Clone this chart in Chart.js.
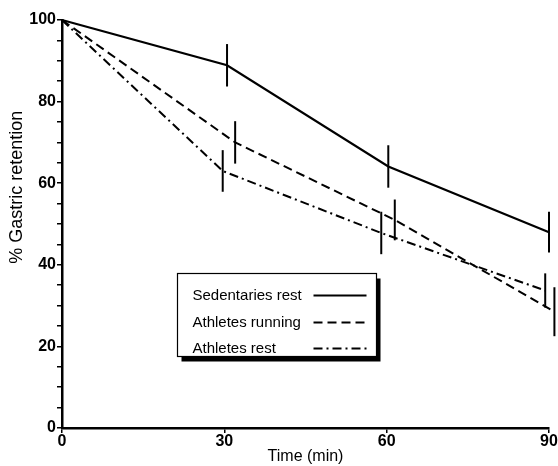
<!DOCTYPE html>
<html>
<head>
<meta charset="utf-8">
<script src="https://cdn.jsdelivr.net/npm/chart.js@4.4.0/dist/chart.umd.min.js"></script>
<style>
  html, body { margin: 0; padding: 0; background: #fff; }
  #wrap { width: 558px; height: 466px; }
</style>
</head>
<body>
<div id="wrap"><canvas id="chart" width="558" height="466"></canvas></div>
<script>
// x positions are slightly staggered in the original so the error bars don't overlap
const timeTicks = [0, 30, 60, 90];
const yTickLabels = [0, 20, 40, 60, 80, 100];

const sedentaryX = [0, 30.5, 60.3, 90];
const sedentaryY = [100, 88.9, 64.1, 48];
const sedentaryErr = [0, 5.2, 5.2, 5];

const runningX = [0, 32, 61.5, 91];
const runningY = [100, 70, 51, 28.5];
const runningErr = [0, 5.2, 5, 6];

const restX = [0, 29.7, 59, 89.3];
const restY = [100, 63, 47.8, 33.7];
const restErr = [0, 5.1, 5.2, 4.2];

const seriesLabels = ['Sedentaries rest', 'Athletes running', 'Athletes rest'];

function toPoints(xs, ys) {
    return xs.map((x, i) => ({ x: x, y: ys[i] }));
}

const errorBars = {
    id: 'errorBars',
    afterDatasetsDraw(chart) {
        const ctx = chart.ctx;
        const xs = chart.scales.x, ys = chart.scales.y;
        ctx.save();
        ctx.strokeStyle = '#000';
        ctx.lineWidth = 2;
        chart.data.datasets.forEach(ds => {
            ds.data.forEach((p, i) => {
                const e = ds.errors[i];
                if (!e) return;
                const px = xs.getPixelForValue(p.x);
                ctx.beginPath();
                ctx.moveTo(px, ys.getPixelForValue(p.y + e));
                ctx.lineTo(px, ys.getPixelForValue(p.y - e));
                ctx.stroke();
            });
        });
        ctx.restore();
    }
};

const boxLegend = {
    id: 'boxLegend',
    afterDraw(chart) {
        const ctx = chart.ctx;
        const a = chart.chartArea;
        const w = a.right - a.left, h = a.bottom - a.top;
        const bx = Math.round(a.left + 0.2355 * w) + 0.5;
        const by = Math.round(a.top + 0.621 * h) + 0.5;
        const bw = 199, bh = 83;
        ctx.save();
        ctx.fillStyle = '#000';
        ctx.fillRect(bx + 4, by + 5, bw, bh);
        ctx.fillStyle = '#fff';
        ctx.fillRect(bx, by, bw, bh);
        ctx.strokeStyle = '#000';
        ctx.lineWidth = 1.2;
        ctx.strokeRect(bx, by, bw, bh);
        ctx.font = '15px "Liberation Sans", Arial, sans-serif';
        ctx.textBaseline = 'middle';
        const rows = [22, 49, 75];
        chart.data.datasets.forEach((ds, i) => {
            const ty = by + rows[i];
            ctx.fillStyle = '#000';
            ctx.fillText(ds.label, bx + 15, ty);
            ctx.beginPath();
            ctx.setLineDash(ds.borderDash || []);
            ctx.lineWidth = ds.borderWidth;
            ctx.moveTo(bx + 136, ty);
            ctx.lineTo(bx + 189, ty);
            ctx.stroke();
        });
        ctx.restore();
    }
};

const yTitle = {
    id: 'yTitle',
    afterDraw(chart) {
        const ctx = chart.ctx;
        const a = chart.chartArea;
        ctx.save();
        ctx.translate(17, a.top + 0.41 * (a.bottom - a.top));
        ctx.rotate(-Math.PI / 2);
        ctx.font = '18px "Liberation Sans", Arial, sans-serif';
        ctx.fillStyle = '#000';
        ctx.textAlign = 'center';
        ctx.textBaseline = 'middle';
        ctx.fillText('% Gastric retention', 0, 0);
        ctx.restore();
    }
};

const ctx = document.getElementById('chart').getContext('2d');
new Chart(ctx, {
    type: 'line',
    data: {
        datasets: [
            {
                label: seriesLabels[0],
                data: toPoints(sedentaryX, sedentaryY),
                errors: sedentaryErr,
                borderColor: '#000',
                borderWidth: 2.2,
                borderDash: []
            },
            {
                label: seriesLabels[1],
                data: toPoints(runningX, runningY),
                errors: runningErr,
                borderColor: '#000',
                borderWidth: 2,
                borderDash: [9, 5]
            },
            {
                label: seriesLabels[2],
                data: toPoints(restX, restY),
                errors: restErr,
                borderColor: '#000',
                borderWidth: 2,
                borderDash: [9, 4, 2, 4]
            }
        ]
    },
    options: {
        responsive: false,
        animation: false,
        clip: false,
        elements: {
            point: { radius: 0, hoverRadius: 0 },
            line: { tension: 0, fill: false }
        },
        layout: { padding: { top: 20, right: 9, left: 0, bottom: 0 } },
        plugins: {
            legend: { display: false },
            tooltip: { enabled: false }
        },
        scales: {
            x: {
                type: 'linear',
                min: 0,
                max: 90,
                afterBuildTicks(scale) {
                    scale.ticks = timeTicks.map(v => ({ value: v }));
                },
                afterFit(scale) { scale.height = 38; },
                grid: {
                    drawOnChartArea: false,
                    color: '#000',
                    lineWidth: 1.5,
                    tickLength: 5
                },
                border: { display: true, color: '#000', width: 2.5 },
                ticks: {
                    color: '#000',
                    padding: -1,
                    maxRotation: 0,
                    font: { family: '"Liberation Sans", Arial, sans-serif', size: 16, weight: 'bold' }
                },
                title: {
                    display: true,
                    text: 'Time (min)',
                    color: '#000',
                    padding: { top: -2, bottom: 0 },
                    font: { family: '"Liberation Sans", Arial, sans-serif', size: 16 }
                }
            },
            y: {
                min: 0,
                max: 100,
                ticks: {
                    stepSize: 5,
                    color: '#000',
                    padding: 1,
                    autoSkip: false,
                    font: { family: '"Liberation Sans", Arial, sans-serif', size: 16, weight: 'bold' },
                    callback: v => (yTickLabels.includes(v) ? v : '')
                },
                afterFit(scale) { scale.width = 62; },
                grid: {
                    drawOnChartArea: false,
                    color: '#000',
                    lineWidth: 1.5,
                    tickLength: 5
                },
                border: { display: true, color: '#000', width: 2.5 }
            }
        }
    },
    plugins: [errorBars, boxLegend, yTitle]
});
</script>
</body>
</html>
